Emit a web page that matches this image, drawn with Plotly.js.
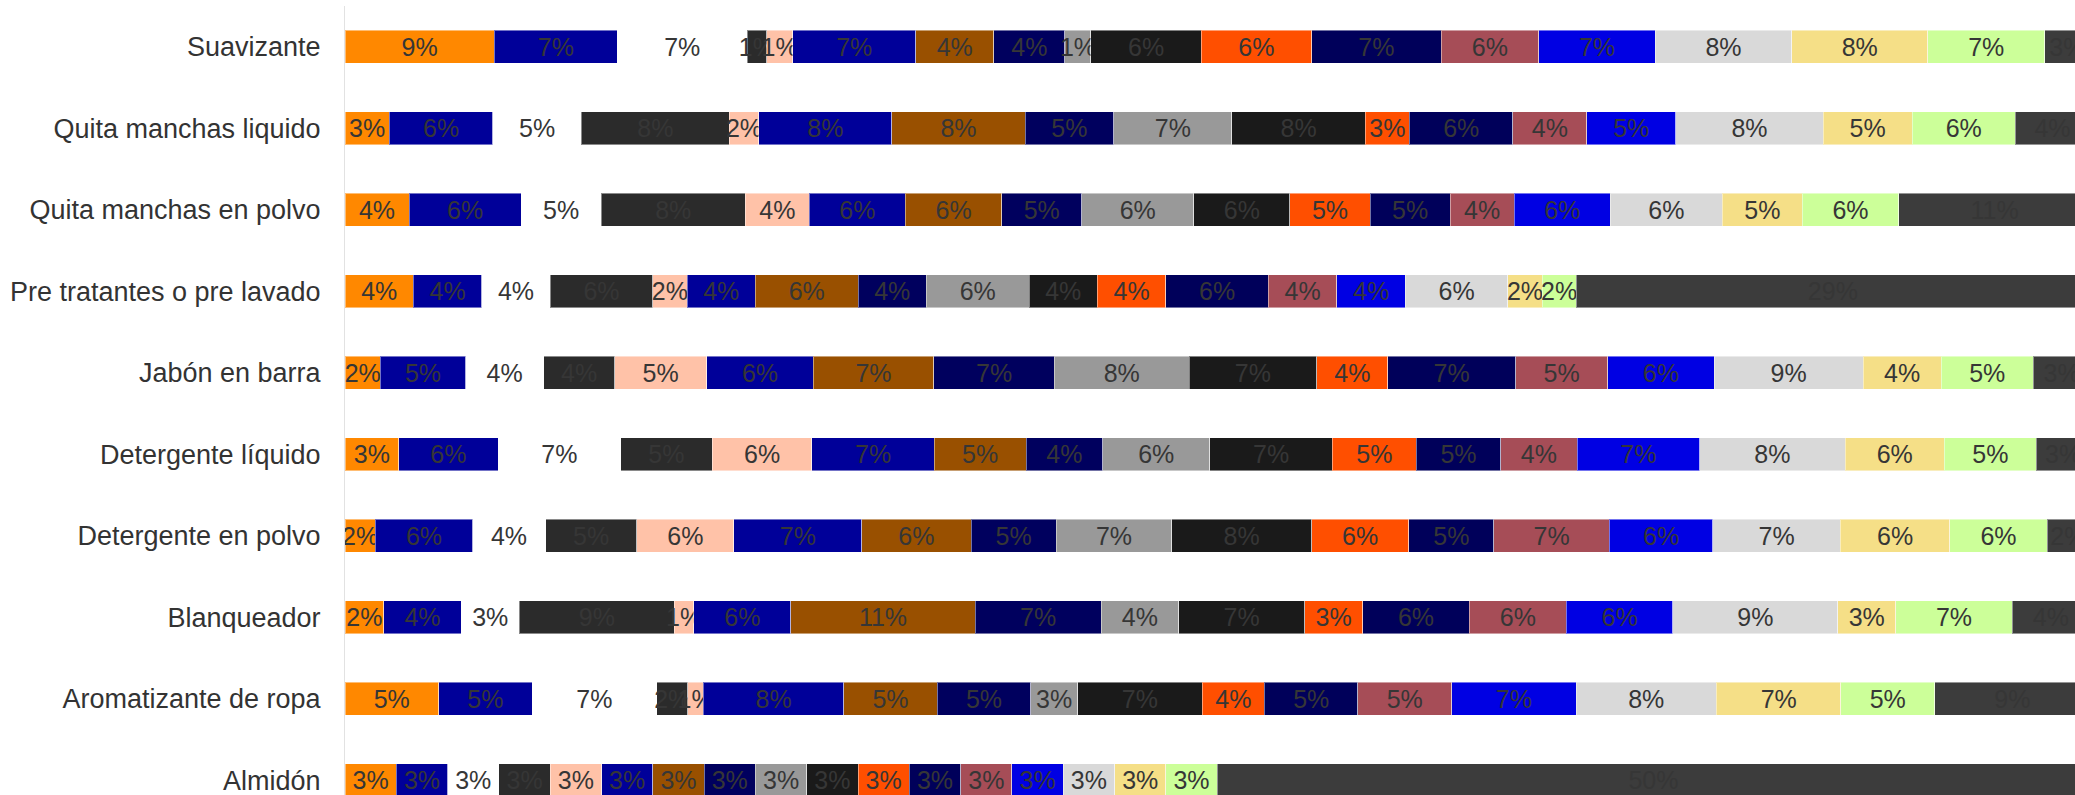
<!DOCTYPE html>
<html>
<head>
<meta charset="utf-8">
<script src="https://cdn.plot.ly/plotly-3.0.1.min.js"></script>
<style>
  html, body { margin: 0; padding: 0; background: #ffffff; overflow: hidden; }
  #chart { width: 2090px; height: 861px; }
</style>
</head>
<body>
<div id="chart"></div>
<script>
// Categories, top to bottom
const categories = ['Suavizante', 'Quita manchas liquido', 'Quita manchas en polvo',
  'Pre tratantes o pre lavado', 'Jabón en barra', 'Detergente líquido',
  'Detergente en polvo', 'Blanqueador', 'Aromatizante de ropa', 'Almidón'];

// Share (%) of each series per category, same order as categories
const serie01 = [8.55, 2.54, 3.67, 3.92, 2.03, 3.07, 1.74, 2.22, 5.36, 2.94];
const serie02 = [7.06, 5.93, 6.42, 3.92, 4.88, 5.70, 5.57, 4.44, 5.36, 2.94];
const serie03 = [7.43, 5.08, 4.59, 3.92, 4.47, 7.02, 4.18, 3.33, 7.14, 2.94];
const serie04 = [1.12, 8.47, 8.26, 5.88, 4.07, 5.26, 5.23, 8.89, 1.79, 2.94];
const serie05 = [1.49, 1.69, 3.67, 1.96, 5.28, 5.70, 5.57, 1.11, 0.89, 2.94];
const serie06 = [7.06, 7.63, 5.51, 3.92, 6.10, 7.02, 7.32, 5.56, 8.04, 2.94];
const serie07 = [4.46, 7.63, 5.51, 5.88, 6.91, 5.26, 6.27, 10.56, 5.36, 2.94];
const serie08 = [4.09, 5.08, 4.59, 3.92, 6.91, 4.39, 4.88, 7.22, 5.36, 2.94];
const serie09 = [1.49, 6.78, 6.42, 5.88, 7.72, 6.14, 6.62, 4.44, 2.68, 2.94];
const serie10 = [6.32, 7.63, 5.51, 3.92, 7.32, 7.02, 8.01, 7.22, 7.14, 2.94];
const serie11 = [6.32, 2.54, 4.59, 3.92, 4.07, 4.82, 5.57, 3.33, 3.57, 2.94];
const serie12 = [7.43, 5.93, 4.59, 5.88, 7.32, 4.82, 4.88, 6.11, 5.36, 2.94];
const serie13 = [5.58, 4.24, 3.67, 3.92, 5.28, 4.39, 6.62, 5.56, 5.36, 2.94];
const serie14 = [6.69, 5.08, 5.51, 3.92, 6.10, 7.02, 5.92, 6.11, 7.14, 2.94];
const serie15 = [7.81, 8.47, 6.42, 5.88, 8.54, 8.33, 7.32, 9.44, 8.04, 2.94];
const serie16 = [7.81, 5.08, 4.59, 1.96, 4.47, 5.70, 6.27, 3.33, 7.14, 2.94];
const serie17 = [6.69, 5.93, 5.51, 1.96, 5.28, 5.26, 5.57, 6.67, 5.36, 2.94];
const serie18 = [2.60, 4.24, 11.01, 29.41, 3.25, 3.07, 2.44, 4.44, 8.93, 50.00];

const seriesValues = [serie01, serie02, serie03, serie04, serie05, serie06, serie07, serie08, serie09,
  serie10, serie11, serie12, serie13, serie14, serie15, serie16, serie17, serie18];
const seriesNames = ['Serie 1', 'Serie 2', 'Serie 3', 'Serie 4', 'Serie 5', 'Serie 6', 'Serie 7', 'Serie 8', 'Serie 9',
  'Serie 10', 'Serie 11', 'Serie 12', 'Serie 13', 'Serie 14', 'Serie 15', 'Serie 16', 'Serie 17', 'Serie 18'];
const seriesColors = ['#FF8800', '#000099', '#FFFFFF', '#2B2B2B', '#FFC2A8', '#000099', '#995000', '#00005E', '#999999',
  '#1A1A1A', '#FF4F00', '#00005A', '#A64D57', '#0000E3', '#D9D9D9', '#F5DF87', '#CCFF99', '#3C3C3C'];

const FONT = 'Liberation Sans, Arial, sans-serif';

const traces = seriesValues.map((vals, i) => ({
  type: 'bar',
  orientation: 'h',
  name: seriesNames[i],
  y: categories,
  x: vals,
  marker: { color: seriesColors[i], line: { color: 'rgba(255,255,255,0.45)', width: 1 } },
  texttemplate: '%{x:.0f}%',
  textposition: 'inside',
  insidetextanchor: 'middle',
  constraintext: 'none',
  textangle: 0,
  textfont: { family: FONT, size: 25, color: '#363636' },
  hoverinfo: 'skip'
}));

const layout = {
  width: 2090,
  height: 861,
  margin: { l: 345, r: 0, t: 6, b: 40 },
  barmode: 'stack',
  bargap: 0.6,
  showlegend: false,
  paper_bgcolor: '#ffffff',
  plot_bgcolor: '#ffffff',
  font: { family: FONT, color: '#333333' },
  xaxis: {
    range: [0, 100],
    showgrid: false,
    zeroline: false,
    showticklabels: false,
    ticks: '',
    showline: false
  },
  yaxis: {
    type: 'category',
    autorange: 'reversed',
    showgrid: false,
    zeroline: false,
    showline: true,
    linecolor: '#e2e2e2',
    linewidth: 1,
    ticks: '',
    ticklabelstandoff: 18,
    tickfont: { family: FONT, size: 27, color: '#333333' }
  }
};

Plotly.newPlot('chart', traces, layout, { staticPlot: true, displayModeBar: false });
</script>
</body>
</html>
